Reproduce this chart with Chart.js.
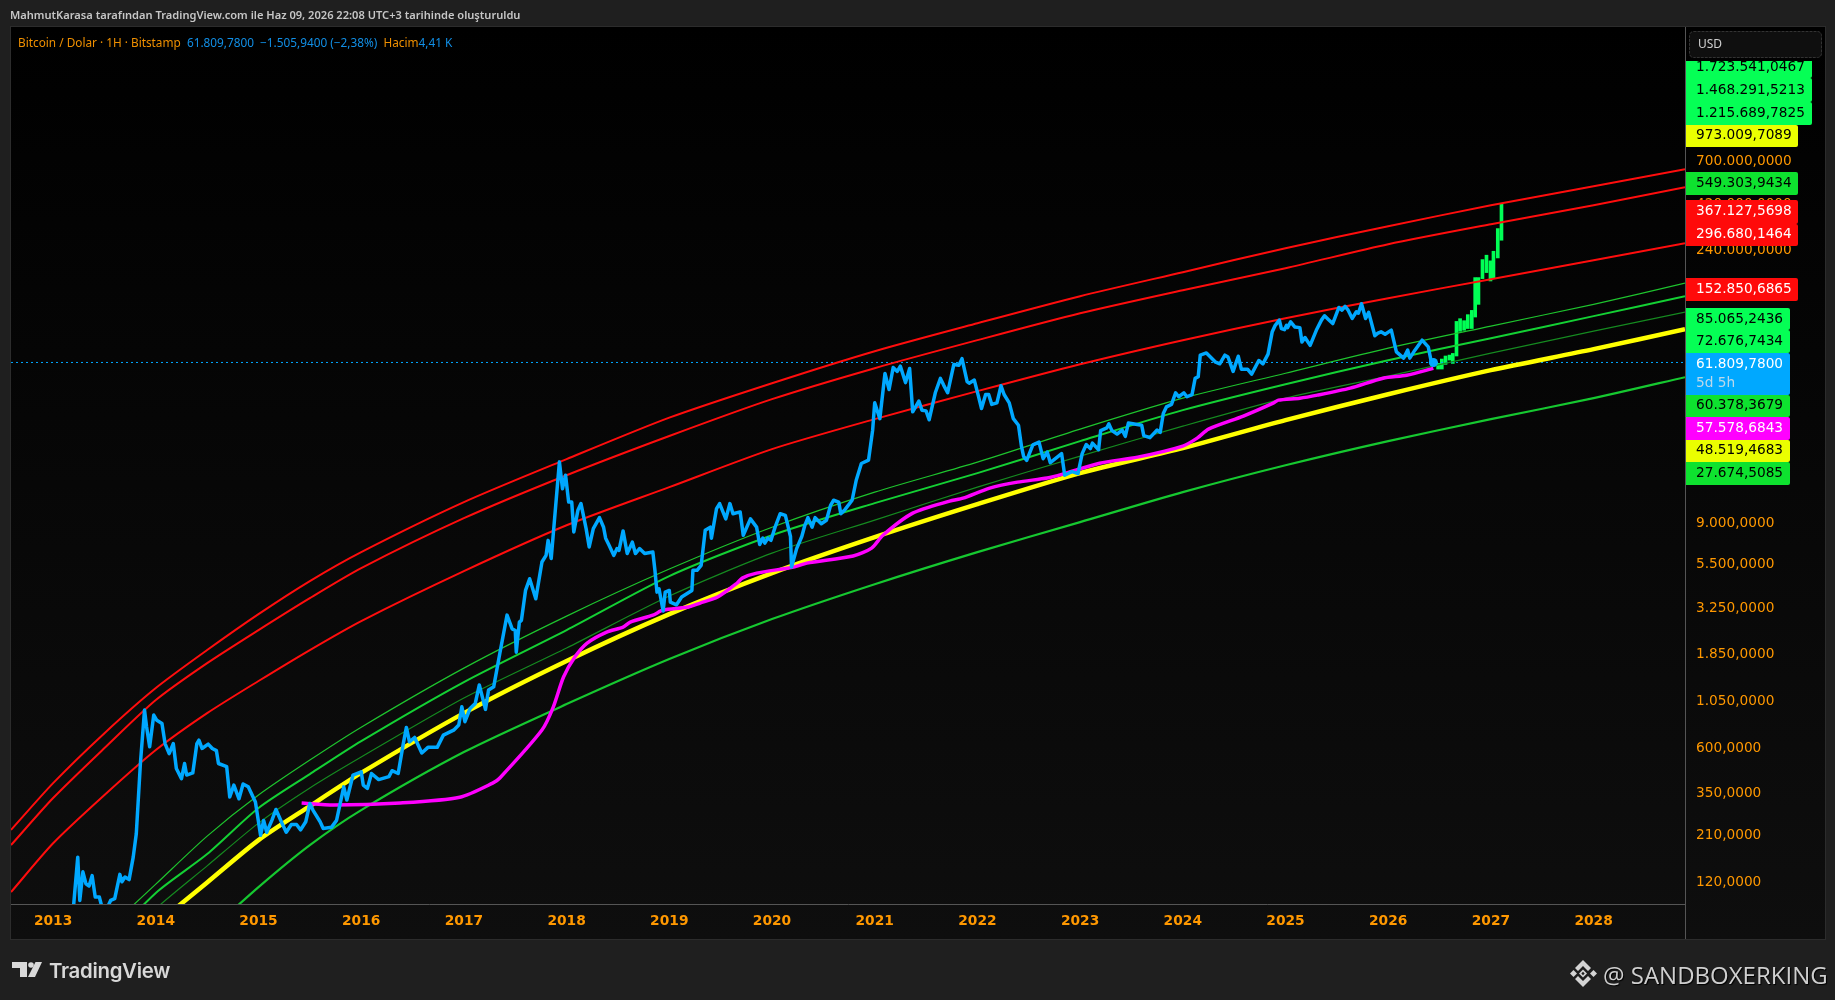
<!DOCTYPE html>
<html lang="tr">
<head>
<meta charset="utf-8">
<title>Bitcoin / Dolar</title>
<script src="https://cdn.jsdelivr.net/npm/chart.js@4"></script>
<style>
html,body{margin:0;padding:0;background:#1f1f1f;width:1835px;height:1000px;overflow:hidden}
canvas{position:absolute;left:0;top:0}
.t{position:absolute;white-space:pre;line-height:1}
#head{left:10px;top:7px;font:600 11.1px "Noto Sans";color:#c6c6c6}
#legend{left:18px;top:34px;font:11.8px "Noto Sans";color:#f09000}
#legend b{font-weight:400;color:#118fe6}
#tv{left:49px;top:958px;font:600 20.4px Inter;color:#d8d8d8;letter-spacing:-.3px}
#sb{left:1603px;top:958px;font:24px "Open Sans";color:#cfcfcf;text-shadow:1px 1px 1px #000}
svg{position:absolute;left:0;top:0}
</style>
</head>
<body>
<canvas id="c" width="1835" height="1000"></canvas>
<svg width="1835" height="1000">
  <g fill="#d9d9d9">
    <polygon points="12,962 27,962 27,977 20,977 20,968 12,968"/>
    <circle cx="31" cy="965" r="2.8"/>
    <polygon points="35.5,962 42,962 35,977 28,977"/>
  </g>
  <g fill="#d4d4d4">
    <polygon points="1583,960 1591,968 1588,971 1583,966 1578,971 1575,968"/>
    <polygon points="1583,987 1591,979 1588,976 1583,981 1578,976 1575,979"/>
    <polygon points="1570,973.5 1573.5,970 1577,973.5 1573.5,977"/>
    <polygon points="1590,973.5 1593.5,970 1597,973.5 1593.5,977"/>
    <polygon points="1583,969.5 1587,973.5 1583,977.5 1579,973.5"/>
  </g>
  <polygon points="1583,971.8 1584.7,973.5 1583,975.2 1581.3,973.5" fill="#1f1f1f"/>
</svg>
<div class="t" id="head">MahmutKarasa tarafından TradingView.com ile Haz 09, 2026 22:08 UTC+3 tarihinde oluşturuldu</div>
<div class="t" id="legend">Bitcoin / Dolar · 1H · Bitstamp  <b>61.809,7800  −1.505,9400 (−2,38%)</b>  Hacim<b>4,41 K</b></div>
<div class="t" id="tv">TradingView</div>
<div class="t" id="sb">@ SANDBOXERKING</div>
<script>
const yearTicks = [2013,2014,2015,2016,2017,2018,2019,2020,2021,2022,2023,2024,2025,2026,2027,2028];
const priceTicks = [120,210,350,600,1050,1850,3250,5500,9000,140000,240000,420000,700000];

const curveYears = [2012.59,2013,2013.5,2014,2014.5,2015,2015.5,2016,2017,2018,2019,2020,2021,2022,2023,2024,2025,2026,2027,2028,2028.89];
const red1 = [222,390,712,1226,1937,2985,4444,6300,11500,19300,31800,48150,70800,99150,137300,183300,244700,319000,410000,516500,633000];
const red2 = [185,326,595,1061,1655,2464,3620,5195,9480,15900,25500,39740,57700,80845,111800,147600,192300,256600,326400,410000,509600];
const red3 = [105,189,338,581,906,1334,1937,2746,5010,8700,13770,21770,31240,43750,60500,80845,105300,134000,168500,211800,259800];
const green1 = [null,null,65,115.6,206,338,515,765,1558,2914,5135,8500,12970,18610,27700,40200,54300,73400,95750,124500,160500];
const green2 = [null,null,55,104,166,289,435,647,1318,2464,4720,7720,11360,16300,23970,34810,47550,63547,82800,108000,137300];
const green3 = [null,null,46,86,144,241,368,534,1087,1985,3710,6220,9261,13770,20020,28700,40200,52450,69100,90100,113200];
const yellow = [null,null,null,71,118,196.5,296,441,906,1697,2985,4890,7540,11220,16300,22030,30862,42150,56340,72540,92300];
const greenLow = [null,null,null,null,64,111.6,185,282,567,1010,1738,2812,4280,6300,9040,12970,17920,23970,31240,40200,51750];

const maYears = [2015.42,2015.73,2016.38,2016.96,2017.28,2017.35,2017.76,2017.87,2017.97,2018.08,2018.20,2018.39,2018.55,2018.62,2018.84,2018.94,2019.17,2019.30,2019.47,2019.66,2019.71,2019.85,2020.21,2020.34,2020.79,2020.97,2021.08,2021.37,2021.73,2021.86,2022.12,2022.39,2022.68,2022.83,2023.19,2023.56,2024.00,2024.14,2024.25,2024.59,2024.88,2024.93,2025.14,2025.31,2025.63,2025.95,2026.18,2026.44];
const maPrices = [307,299.5,307,329,390,415,739,974,1399,1779,2106,2405,2553,2712,2947,3135,3240,3410,3665,4336,4606,4890,5257,5516,6010,6610,7720,10070,11640,12060,13610,14630,15360,16100,18380,19760,22580,24840,27700,32400,37850,39263,40200,41700,45350,51150,53000,57578.68];

const btcYears = [
2013.19,2013.20,2013.24,2013.26,2013.29,2013.32,2013.35,2013.38,2013.41,2013.45,2013.47,2013.51,2013.54,2013.56,2013.60,2013.65,2013.67,2013.70,2013.74,2013.78,2013.81,2013.85,2013.89,2013.91,2013.94,2013.98,
2014.01,2014.06,2014.09,2014.13,2014.17,2014.20,2014.25,2014.28,2014.30,2014.36,2014.40,2014.42,2014.45,2014.51,2014.55,2014.59,2014.61,2014.69,2014.72,2014.76,2014.81,2014.85,2014.90,2014.97,
2015.02,2015.05,2015.08,2015.13,2015.17,2015.23,2015.27,2015.32,2015.37,2015.41,2015.46,2015.50,2015.53,2015.60,2015.63,2015.71,2015.76,2015.83,2015.86,2015.92,
2016.00,2016.02,2016.06,2016.10,2016.17,2016.27,2016.30,2016.36,2016.41,2016.44,2016.47,2016.52,2016.59,2016.65,2016.74,2016.80,2016.90,2016.95,2016.98,
2017.01,2017.06,2017.11,2017.15,2017.21,2017.24,2017.29,2017.35,2017.42,2017.47,2017.50,2017.51,2017.54,2017.56,2017.60,2017.64,2017.70,2017.73,2017.76,2017.80,2017.82,2017.85,2017.93,2017.96,2017.99,
2018.02,2018.05,2018.07,2018.11,2018.14,2018.19,2018.22,2018.26,2018.32,2018.36,2018.38,2018.41,2018.46,2018.49,2018.51,2018.55,2018.59,2018.64,2018.67,2018.71,2018.76,2018.84,2018.86,2018.88,2018.90,2018.94,2018.96,
2019.00,2019.01,2019.07,2019.12,2019.22,2019.23,2019.27,2019.31,2019.35,2019.40,2019.41,2019.46,2019.49,2019.55,2019.59,2019.62,2019.69,2019.72,2019.79,2019.85,2019.88,2019.91,2019.93,2019.96,2019.99,
2020.03,2020.08,2020.13,2020.18,2020.19,2020.24,2020.29,2020.32,2020.35,2020.39,2020.42,2020.48,2020.53,2020.57,2020.60,2020.65,2020.67,2020.71,2020.78,2020.82,2020.87,2020.94,2020.98,
2021.00,2021.05,2021.10,2021.14,2021.18,2021.22,2021.25,2021.30,2021.34,2021.37,2021.43,2021.46,2021.50,2021.53,2021.59,2021.64,2021.67,2021.71,2021.77,2021.82,2021.85,2021.90,2021.92,2021.97,
2022.01,2022.04,2022.08,2022.11,2022.14,2022.19,2022.23,2022.26,2022.31,2022.35,2022.40,2022.43,2022.45,2022.48,2022.54,2022.60,2022.64,2022.68,2022.71,2022.82,2022.85,2022.92,2022.98,
2023.02,2023.06,2023.10,2023.12,2023.18,2023.20,2023.26,2023.28,2023.31,2023.36,2023.41,2023.44,2023.47,2023.60,2023.62,2023.68,2023.75,2023.78,2023.81,2023.84,2023.89,2023.93,2023.96,
2024.01,2024.04,2024.09,2024.12,2024.15,2024.17,2024.23,2024.32,2024.36,2024.41,2024.44,2024.49,2024.54,2024.57,2024.63,2024.67,2024.74,2024.78,2024.83,2024.87,2024.90,2024.94,2024.96,2024.99,
2025.01,2025.02,2025.05,2025.09,2025.14,2025.16,2025.19,2025.24,2025.30,2025.35,2025.38,2025.42,2025.46,2025.52,2025.55,2025.58,2025.61,2025.65,2025.69,2025.71,2025.74,2025.78,2025.81,2025.87,2025.90,2025.93,2025.97,
2026.03,2026.08,2026.15,2026.19,2026.21,2026.26,2026.33,2026.39,2026.42,2026.44];
const btcPrices = [
70,90,160,95,134,116,113,128,99,99,90,84,90,95,97,130,119,126,122,160,212,494,940,769,604,885,
831,800,628,556,628,465,412,494,430,441,628,654,592,624,592,577,494,476,330,381,323,386,373,311,
208,249,216,249,284,240,216,237,237,222,245,305,282,245,226,229,249,373,318,430,
447,381,366,438,407,422,453,438,628,763,641,676,561,600,600,695,738,785,978,
817,958,1016,1272,948,1196,1244,1863,2950,2500,2452,1888,2710,2770,3970,4570,3590,4480,5590,6055,7256,5830,18670,13520,15900,
11500,11500,8030,10420,11300,8360,6700,8360,9540,8500,7450,6900,6055,6570,6430,8130,6190,7100,6190,6570,6190,6300,5060,3890,4050,3100,3890,
3970,3450,3340,3665,3970,5060,5060,5370,8190,8510,7450,10640,11300,9400,11300,10000,10220,7720,9400,8510,6900,7450,7020,7450,7260,
8510,10000,9800,7600,5270,6570,7600,8700,9540,8510,9540,8870,9240,11050,11760,11500,10000,10500,11760,14960,18300,19070,27360,
38000,31400,54090,44650,58200,55500,59100,48500,57500,34100,38800,34800,34500,31000,42900,51000,47200,42900,60300,59700,64700,49100,48100,50000,
41200,35500,42000,42000,37300,38000,46700,42000,38000,31400,29000,22350,19960,19020,22900,23700,19400,21000,18490,20620,15900,16600,16240,
20620,23000,21900,23400,21600,27200,28100,29500,27200,26100,27400,25400,29800,29000,25600,25000,27400,26600,33400,36190,37300,42900,40900,
42900,40900,42000,51000,52000,67500,69300,62000,60800,67500,66000,55500,66600,57000,57000,53700,63300,60800,68300,89100,96700,102900,92900,91700,
96700,94000,100800,94800,94000,79000,83500,75900,91000,102900,108500,103500,98750,119800,116000,121400,116000,105000,113800,111800,125300,105000,113000,85300,88000,89400,86800,
91187,70200,65100,71676,65100,71676,80845,74600,62000,61809.78];

const projYears = [2026.486,2026.522,2026.558,2026.597,2026.629,2026.665,2026.700,2026.739,2026.775,2026.814,2026.847,2026.879,2026.918,2026.957,2026.996,2027.025,2027.067,2027.103];
const projLow  = [57100,57100,60400,63600,61100,66800,90000,91100,93000,93000,106800,124400,169600,182400,164900,169600,217600,269300];
const projHigh = [61100,64400,66800,67550,68900,101300,104700,102200,109900,115700,171700,171700,213300,224900,210000,235800,309800,418800];

const currentPrice = 61809.78;
const tagTexts = ['1.723.541,0467','1.468.291,5213','1.215.689,7825','973.009,7089','549.303,9434','367.127,5698','296.680,1464','152.850,6865','85.065,2436','72.676,7434','61.809,7800','60.378,3679','57.578,6843','48.519,4683','27.674,5085'];

// --- presentation only below ---
const ORANGE='#ff9800', BRIGHT='#05ff55', DARK='#0ee22f', YEL='#eaff00', RED='#ff0a0a', BLUE='#00a8ff', MAG='#ff00ff';
const tagColors = [BRIGHT,BRIGHT,BRIGHT,YEL,DARK,RED,RED,RED,BRIGHT,BRIGHT,BLUE,DARK,MAG,YEL,DARK];
const tagInk = ['#000','#000','#000','#000','#000','#fff','#fff','#fff','#000','#000','#fff','#000','#fff','#000','#000'];
const tagTop = [55,78,102,125,172,200,224,278,308,330,353,395,417,440,462];
const tagBottom = [78,102,125,147,195,224,246,301,330,353,395,417,440,462,485];
const tagRight = [1812,1812,1812,1798,1798,1798,1798,1798,1790,1790,1790,1790,1790,1790,1790];
const tagTextY = [67,90,113,135,183,211,234,289,319,341,364,405,428,450,473];

const pairs = (xs, ys) => xs.map((x,i)=>({x, y:ys[i]}));
const curve = (label, ys, color, w, order) => ({type:'line',label,data:pairs(curveYears,ys),borderColor:color,borderWidth:w,pointRadius:0,tension:0.25,order,fill:false});

const backdrop = {
  id:'backdrop',
  beforeDraw(ch){
    const c=ch.ctx; c.save();
    c.fillStyle='#1f1f1f'; c.fillRect(0,0,1835,1000);
    const g=c.createLinearGradient(0,27,0,939); g.addColorStop(0,'#000'); g.addColorStop(1,'#0e0e0e');
    c.fillStyle=g; c.fillRect(11,27,1814,912);
    c.strokeStyle='#2c2c2c'; c.lineWidth=1; c.strokeRect(10.5,26.5,1815,913);
    c.strokeStyle='#555'; c.beginPath(); c.moveTo(1685.5,904); c.lineTo(1685.5,939); c.stroke();
    c.restore();
  },
  afterDraw(ch){
    const c=ch.ctx; c.save();
    c.beginPath(); c.rect(1686,61,140,500); c.clip();
    tagTexts.forEach((t,i)=>{
      c.fillStyle=tagColors[i];
      c.beginPath(); c.roundRect(1686,tagTop[i],tagRight[i]-1686,tagBottom[i]-tagTop[i],[0,2,2,0]); c.fill();
      c.fillStyle=tagInk[i]; c.font='13.7px "DejaVu Sans"'; c.textBaseline='middle'; c.textAlign='left';
      c.fillText(t,1696,tagTextY[i]);
    });
    c.fillStyle='#bcd8ea'; c.fillText('5d 5h',1696,383);
    c.restore();
    c.save();
    c.fillStyle='#0f0f0f'; c.strokeStyle='#333'; c.lineWidth=1; c.setLineDash([3,1]);
    c.beginPath(); c.roundRect(1689.5,31.5,132,26,4); c.fill(); c.stroke();
    c.fillStyle='#d0d0d0'; c.font='12px "Noto Sans"'; c.textBaseline='middle'; c.fillText('USD',1698,44.5);
    c.restore();
  }
};

new Chart(document.getElementById('c'),{
  type:'line',
  plugins:[backdrop],
  data:{datasets:[
    {type:'bar',label:'Projeksiyon',data:projYears.map((x,i)=>({x,y:[projLow[i],projHigh[i]]})),backgroundColor:'#00ff55',barThickness:3,grouped:false,order:12},
    {type:'line',label:'Son fiyat',data:pairs([2012.59,2028.89],[currentPrice,currentPrice]),borderColor:BLUE,borderWidth:1,borderDash:[2,3],pointRadius:0,order:11},
    curve('Direnç 1',red1,'#ff0d0d',2,8),
    curve('Direnç 2',red2,'#ff0d0d',2,8),
    curve('Direnç 3',red3,'#ff0d0d',2,8),
    curve('Yeşil 1',green1,'#1ec42e',1.2,7),
    curve('Yeşil 2',green2,'#14d034',2,7),
    curve('Yeşil 3',green3,'#158a20',1.2,7),
    curve('Yeşil alt',greenLow,'#16c830',2.2,7),
    curve('Sarı',yellow,'#ffff00',4.5,6),
    {type:'line',label:'Ortalama',data:pairs(maYears,maPrices),borderColor:MAG,borderWidth:3.5,pointRadius:0,tension:0.25,order:3},
    {type:'line',label:'Bitcoin',data:pairs(btcYears,btcPrices),borderColor:BLUE,borderWidth:3.5,tension:0,order:1,
      pointRadius:c=>c.dataIndex===btcYears.length-1?4.5:0,pointBackgroundColor:BLUE,pointBorderWidth:0,borderJoinStyle:'round'}
  ]},
  options:{
    responsive:false,animation:false,devicePixelRatio:1,
    layout:{padding:{left:11,top:27,right:10,bottom:61}},
    plugins:{legend:{display:false},tooltip:{enabled:false},title:{display:false}},
    events:[],
    scales:{
      x:{type:'linear',min:2012.59,max:2028.89,offset:false,
        afterBuildTicks(s){s.ticks=yearTicks.map(value=>({value}));},
        afterFit(s){s.height=35;},
        grid:{display:false,drawTicks:false},
        border:{display:true,color:'#555',width:1},
        ticks:{autoSkip:false,maxRotation:0,padding:9,color:ORANGE,font:{family:'"DejaVu Sans"',size:13.8,weight:'bold'},callback:v=>String(v)}},
      y:{type:'logarithmic',position:'right',min:91,max:3510000,
        afterBuildTicks(s){s.ticks=priceTicks.map(value=>({value}));},
        afterFit(s){s.width=140;},
        grid:{display:false,drawTicks:false},
        border:{display:true,color:'#555',width:1},
        ticks:{autoSkip:false,padding:11,labelOffset:1,color:ORANGE,font:{family:'"DejaVu Sans"',size:13.7},align:'center',crossAlign:'near',
          callback:v=>String(Math.round(v)).replace(/\B(?=(\d{3})+$)/g,'.')+',0000'}}
    }
  }
});
</script>
</body>
</html>
